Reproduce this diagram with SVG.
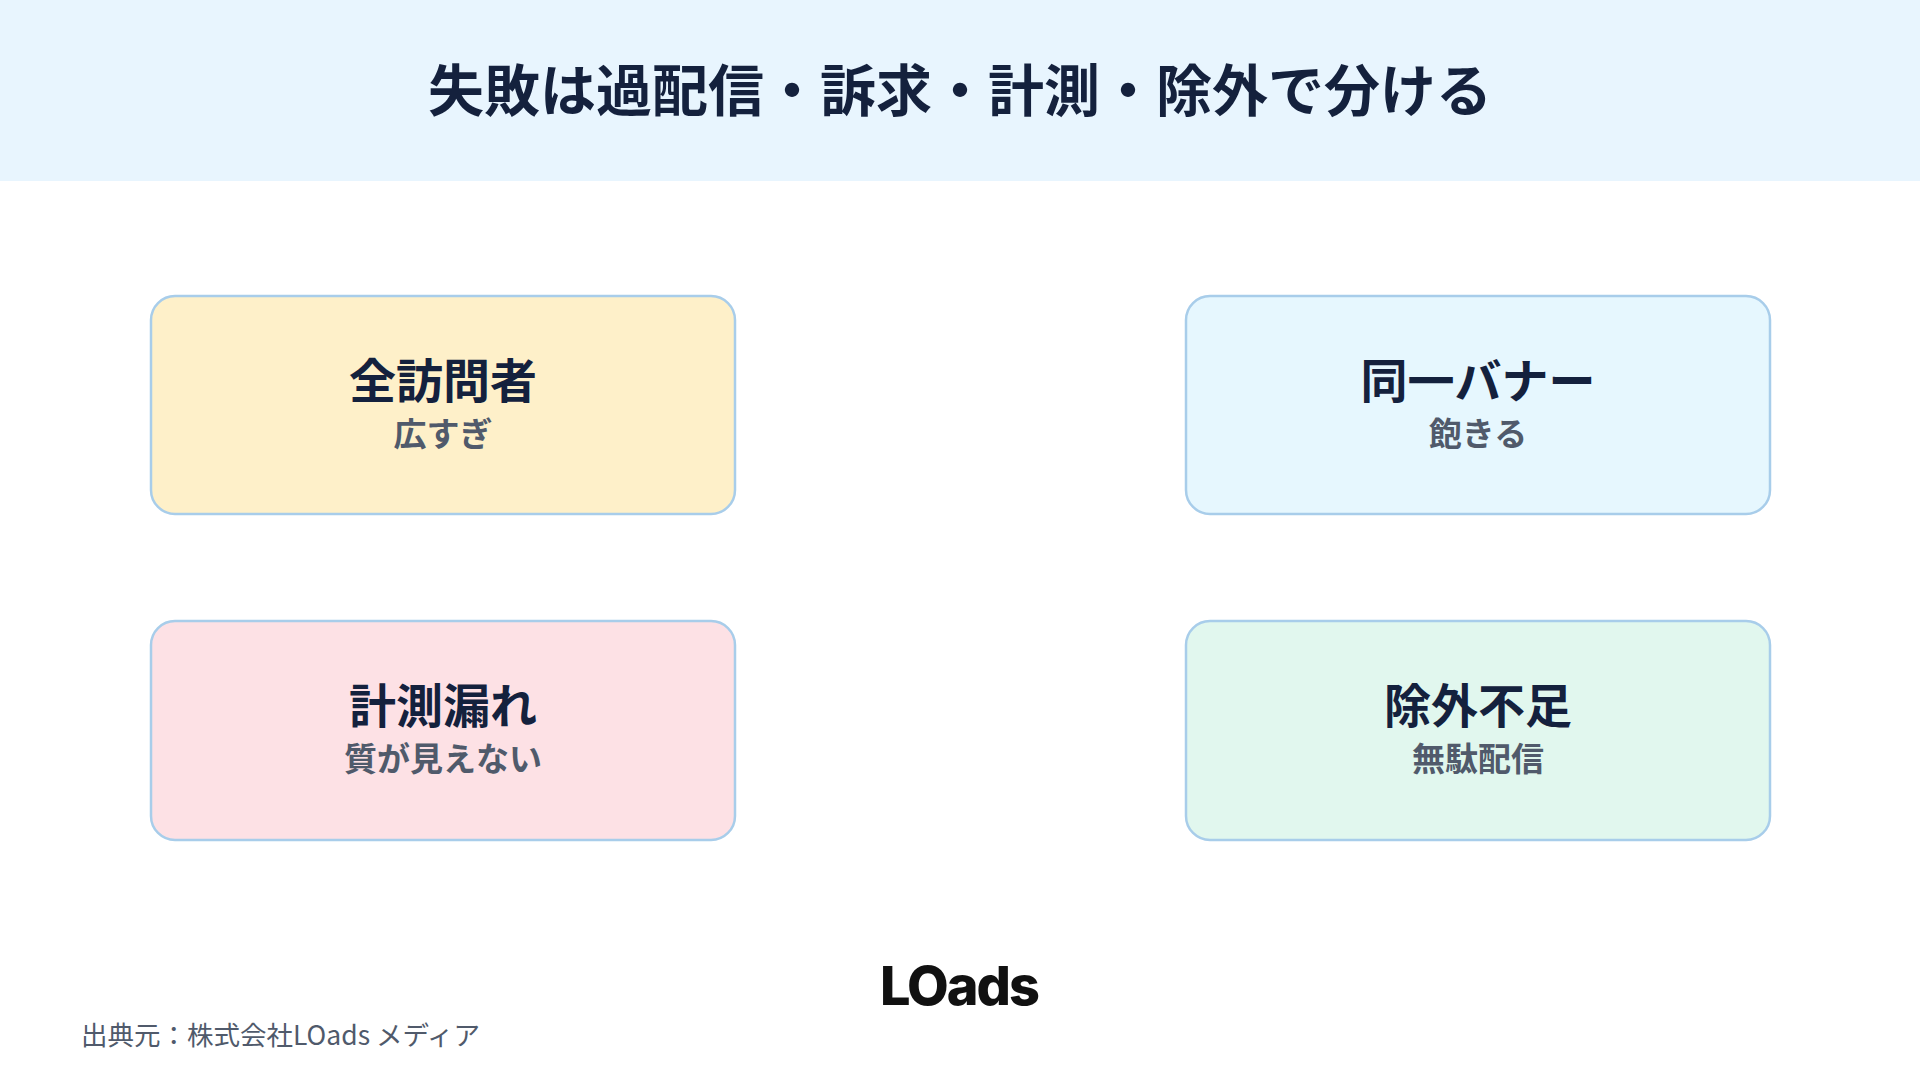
<svg xmlns="http://www.w3.org/2000/svg" width="1920" height="1080" viewBox="0 0 1920 1080">
<style>
.box{stroke:#A8CDEA;stroke-width:2.5}
.t{font-family:"Noto Sans CJK JP","Noto Sans",sans-serif;font-weight:700;font-size:47px;fill:#14213D;text-anchor:middle}
.s{font-family:"Noto Sans CJK JP","Noto Sans",sans-serif;font-weight:700;font-size:33px;fill:#505A6B;text-anchor:middle}
</style>
<rect width="1920" height="1080" fill="#FFFFFF"/>
<rect width="1920" height="181" fill="#E8F5FE"/>
<text x="960" y="111" font-family="Noto Sans CJK JP, Noto Sans, sans-serif" font-weight="700" font-size="56" fill="#14213D" text-anchor="middle">失敗は過配信・訴求・計測・除外で分ける</text>
<g id="n1"><rect class="box" x="151" y="296" width="584" height="218" rx="24" fill="#FEF0C9"/><text class="t" x="443" y="398">全訪問者</text><text class="s" x="443" y="446">広すぎ</text></g>
<g id="n2"><rect class="box" x="1186" y="296" width="584" height="218" rx="24" fill="#E6F7FE"/><text class="t" x="1478" y="398">同一バナー</text><text class="s" x="1478" y="446">飽きる</text></g>
<g id="n3"><rect class="box" x="151" y="621" width="584" height="219" rx="24" fill="#FDE1E5"/><text class="t" x="443" y="723">計測漏れ</text><text class="s" x="443" y="771">質が見えない</text></g>
<g id="n4"><rect class="box" x="1186" y="621" width="584" height="219" rx="24" fill="#E1F7EE"/><text class="t" x="1478" y="723">除外不足</text><text class="s" x="1478" y="771">無駄配信</text></g>
<g id="connectors"></g>
<text x="959" y="1005" font-family="Inter, Noto Sans, sans-serif" font-weight="800" font-size="54" fill="#111111" text-anchor="middle" letter-spacing="-2">LOads</text>
<text x="81" y="1045" font-family="Noto Sans CJK JP, Noto Sans, sans-serif" font-size="26.5" fill="#505A6B">出典元：株式会社LOads メディア</text>
</svg>
